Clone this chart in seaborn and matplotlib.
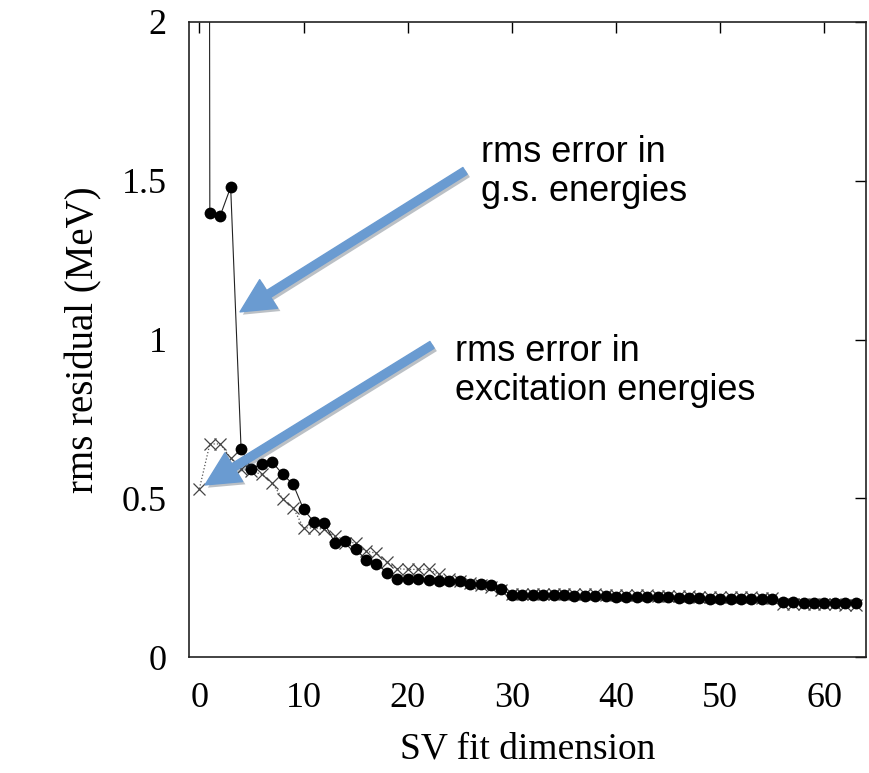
import numpy as np
import pandas as pd
import matplotlib
matplotlib.use("Agg")
import matplotlib.pyplot as plt
import matplotlib.patheffects as pe
import seaborn as sns

# ---- data ----
sv_dim = list(range(0, 64))
gs_rms = [25.0, 1.40, 1.39, 1.48, 0.655, 0.592, 0.608, 0.614, 0.575, 0.544,
          0.465, 0.425, 0.422, 0.360, 0.364, 0.339, 0.307, 0.294, 0.266, 0.247,
          0.246, 0.245, 0.242, 0.239, 0.239, 0.238, 0.231, 0.230, 0.226, 0.215,
          0.195, 0.195, 0.195, 0.195, 0.195, 0.194, 0.193, 0.193, 0.192, 0.191,
          0.190, 0.190, 0.189, 0.189, 0.188, 0.188, 0.187, 0.187, 0.185, 0.184,
          0.184, 0.183, 0.183, 0.183, 0.182, 0.182, 0.172, 0.172, 0.171, 0.171,
          0.171, 0.170, 0.170, 0.170]
ex_rms = [0.530, 0.671, 0.671, 0.627, 0.592, 0.585, 0.575, 0.547, 0.498, 0.470,
          0.407, 0.406, 0.402, 0.380, 0.360, 0.360, 0.333, 0.327, 0.298, 0.278,
          0.276, 0.276, 0.276, 0.260, 0.245, 0.240, 0.234, 0.228, 0.220, 0.210,
          0.200, 0.200, 0.200, 0.200, 0.200, 0.199, 0.198, 0.198, 0.197, 0.196,
          0.195, 0.195, 0.194, 0.194, 0.193, 0.193, 0.192, 0.192, 0.190, 0.189,
          0.189, 0.188, 0.188, 0.188, 0.187, 0.187, 0.168, 0.168, 0.167, 0.167,
          0.166, 0.166, 0.165, 0.165]
x_ticks = [0, 10, 20, 30, 40, 50, 60]
y_ticks = [0, 0.5, 1, 1.5, 2]
y_tick_labels = ["0", "0.5", "1", "1.5", "2"]

df = pd.DataFrame({"dim": sv_dim, "gs": gs_rms, "ex": ex_rms})

sns.set_theme(style="white")
plt.rcParams["font.family"] = ["Liberation Serif", "DejaVu Serif"]
plt.rcParams["text.color"] = "black"
plt.rcParams["axes.labelcolor"] = "black"

fig = plt.figure(figsize=(8.69, 7.73), dpi=100)
ax = fig.add_axes([189 / 869, 1 - 657 / 773, (866 - 189) / 869, (657 - 22) / 773])

sns.lineplot(data=df, x="dim", y="ex", ax=ax, color="#555555", linestyle=":",
             linewidth=0.9, marker="x", markersize=8, markeredgewidth=0.9,
             markeredgecolor="#444444", zorder=2)
sns.lineplot(data=df, x="dim", y="gs", ax=ax, color="#222222", linewidth=0.8,
             marker="o", markersize=8.5, markeredgewidth=0,
             markerfacecolor="black", zorder=3)

ax.set_xlim(-1, 64)
ax.set_ylim(0, 2)
ax.set_xticks(x_ticks)
ax.set_yticks(y_ticks)
ax.set_yticklabels(y_tick_labels)
ax.tick_params(direction="in", length=8, width=1, top=True, right=True,
               labelsize=26, colors="black")
ax.tick_params(axis="y", pad=16)
ax.tick_params(axis="x", pad=18)
for s in ax.spines.values():
    s.set_color("#222222")
    s.set_linewidth(1.2)
ax.set_xlabel("SV fit dimension", fontsize=27, labelpad=12, color="black")
ax.set_ylabel("rms residual (MeV)", fontsize=28, labelpad=14, color="black")

arrow_color = "#6a9bd1"
shadow = [pe.SimplePatchShadow(offset=(2, -2), alpha=0.3), pe.Normal()]
for tail, tip in [((25.5, 1.531), (3.9, 1.087)), ((22.33, 0.983), (0.54, 0.542))]:
    ann = ax.annotate("", xy=tip, xytext=tail, xycoords="data", textcoords="data",
                      arrowprops=dict(arrowstyle="simple,head_width=1.35,head_length=1.35,tail_width=0.32",
                                      color=arrow_color, mutation_scale=18,
                                      shrinkA=0, shrinkB=0),
                      zorder=5, annotation_clip=False)
    ann.arrow_patch.set_path_effects(shadow)

fig.text(481 / 869, 1 - 172 / 773, "rms error in\ng.s. energies", fontsize=26,
         family=["Liberation Sans", "DejaVu Sans"], ha="left", va="center",
         linespacing=1.15, color="black")
fig.text(455 / 869, 1 - 371 / 773, "rms error in\nexcitation energies", fontsize=26,
         family=["Liberation Sans", "DejaVu Sans"], ha="left", va="center",
         linespacing=1.15, color="black")

fig.savefig("out.png", dpi=100)
